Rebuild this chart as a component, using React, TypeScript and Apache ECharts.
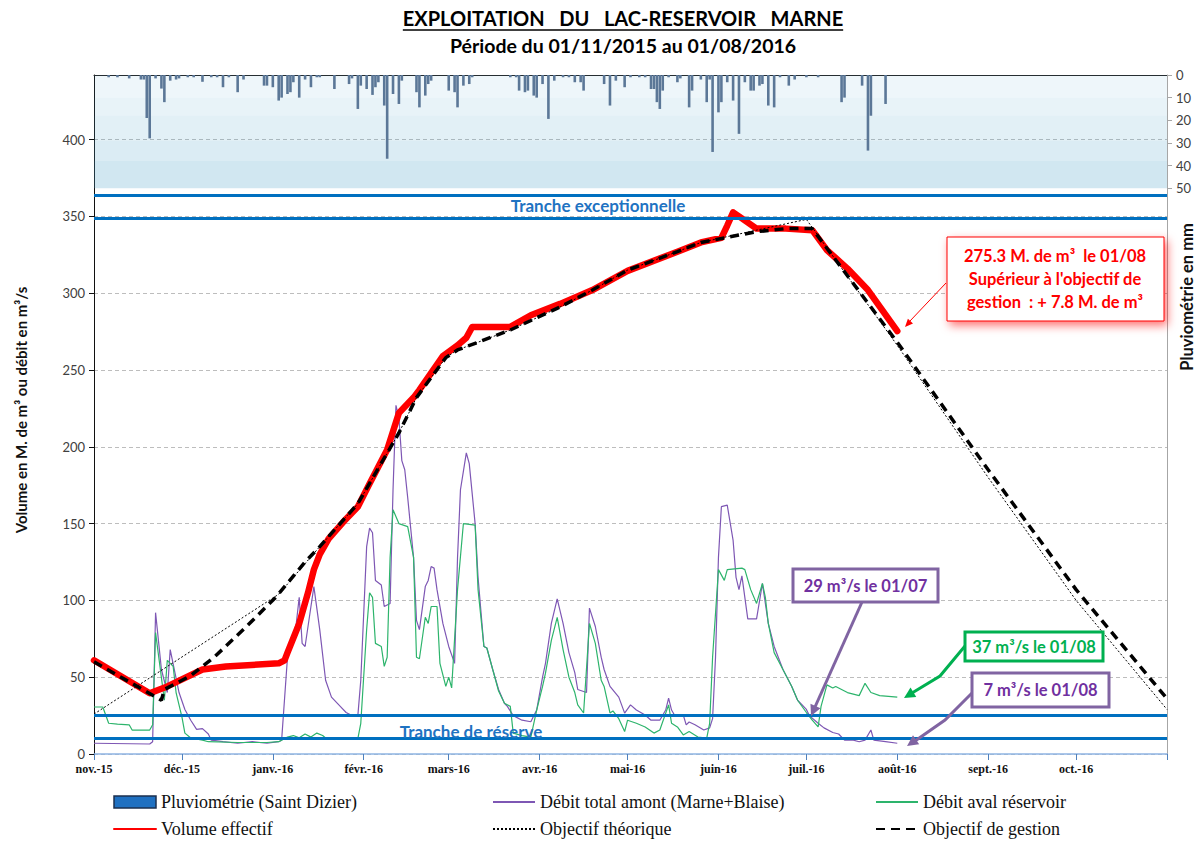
import React, { useEffect, useRef } from 'react';
import * as echarts from 'echarts';

// ---------- DATA ----------
const monthKeys = ['2015-11', '2015-12', '2016-01', '2016-02', '2016-03', '2016-04', '2016-05', '2016-06', '2016-07', '2016-08', '2016-09', '2016-10'];
const monthLabels = ['nov.-15', 'déc.-15', 'janv.-16', 'févr.-16', 'mars-16', 'avr.-16', 'mai-16', 'juin-16', 'juil.-16', 'août-16', 'sept.-16', 'oct.-16'];

const pluvioTicks = [0, 10, 20, 30, 40, 50];
const trancheLevels = [364, 349, 25, 10];

// Pluviométrie (mm/jour)
const pluviometrie: [string, number][] = [
  ['2015-11-06', 1], ['2015-11-09', 1], ['2015-11-13', 1.5], ['2015-11-17', 2], ['2015-11-18', 2],
  ['2015-11-19', 19], ['2015-11-20', 28], ['2015-11-22', 1.5], ['2015-11-24', 6], ['2015-11-25', 12],
  ['2015-11-27', 2.5], ['2015-11-29', 2], ['2015-11-30', 1.5], ['2015-12-03', 1], ['2015-12-05', 1],
  ['2015-12-08', 3], ['2015-12-11', 1], ['2015-12-13', 1], ['2015-12-15', 5.4], ['2015-12-17', 1],
  ['2015-12-20', 7.6], ['2015-12-22', 2], ['2015-12-29', 4.7], ['2015-12-30', 4.7], ['2016-01-01', 5.4],
  ['2016-01-03', 11.3], ['2016-01-04', 10], ['2016-01-06', 8.4], ['2016-01-07', 7.6], ['2016-01-08', 3.2],
  ['2016-01-10', 10], ['2016-01-12', 2], ['2016-01-14', 5.4], ['2016-01-16', 1], ['2016-01-17', 1],
  ['2016-01-22', 6.2], ['2016-01-27', 4], ['2016-01-28', 1.5], ['2016-01-30', 15], ['2016-01-31', 4.7],
  ['2016-02-02', 6.2], ['2016-02-04', 8.8], ['2016-02-05', 5.4], ['2016-02-06', 3.2], ['2016-02-08', 13.5],
  ['2016-02-09', 37], ['2016-02-11', 8.4], ['2016-02-13', 12.8], ['2016-02-14', 2.5], ['2016-02-19', 7.6],
  ['2016-02-20', 14.3], ['2016-02-22', 9.1], ['2016-02-23', 4], ['2016-02-24', 2.5], ['2016-03-01', 6.9],
  ['2016-03-03', 7.6], ['2016-03-04', 14.3], ['2016-03-06', 4.7], ['2016-03-08', 4], ['2016-03-09', 1],
  ['2016-03-22', 1], ['2016-03-24', 1], ['2016-03-25', 6.9], ['2016-03-27', 7.6], ['2016-03-28', 6.9],
  ['2016-03-30', 9.1], ['2016-03-31', 10], ['2016-04-02', 4], ['2016-04-04', 19.4], ['2016-04-06', 2.5],
  ['2016-04-09', 1], ['2016-04-11', 1], ['2016-04-13', 3.2], ['2016-04-15', 3.2], ['2016-04-16', 6.9],
  ['2016-04-23', 4], ['2016-04-25', 13.5], ['2016-04-27', 2.5], ['2016-04-30', 5.4], ['2016-05-02', 1],
  ['2016-05-05', 1], ['2016-05-07', 1], ['2016-05-09', 6.2], ['2016-05-10', 6.2], ['2016-05-11', 12],
  ['2016-05-12', 15], ['2016-05-13', 6.9], ['2016-05-15', 1], ['2016-05-18', 3.2], ['2016-05-19', 1.5],
  ['2016-05-22', 14.3], ['2016-05-23', 6.9], ['2016-05-26', 2], ['2016-05-28', 12], ['2016-05-29', 2],
  ['2016-05-30', 34], ['2016-06-01', 16.5], ['2016-06-02', 12], ['2016-06-04', 3.2], ['2016-06-06', 11.3],
  ['2016-06-08', 26], ['2016-06-10', 3.2], ['2016-06-12', 6.9], ['2016-06-13', 6.9], ['2016-06-15', 4.7],
  ['2016-06-16', 4], ['2016-06-18', 13.5], ['2016-06-20', 14.3], ['2016-06-22', 1], ['2016-06-25', 4.7],
  ['2016-06-27', 2], ['2016-07-01', 1], ['2016-07-05', 1], ['2016-07-13', 12], ['2016-07-14', 10],
  ['2016-07-20', 4.7], ['2016-07-22', 33.4], ['2016-07-23', 18], ['2016-07-28', 12.8],
];

// Débit total amont (Marne+Blaise), m3/s
const debitAmont: [string, number][] = [
  ['2015-11-01', 7], ['2015-11-20', 6.5], ['2015-11-21', 8], ['2015-11-22', 92], ['2015-11-24', 55],
  ['2015-11-26', 40], ['2015-11-27', 68], ['2015-11-30', 40], ['2015-12-02', 29], ['2015-12-04', 22],
  ['2015-12-06', 16], ['2015-12-08', 16.5], ['2015-12-10', 13], ['2015-12-11', 9], ['2015-12-15', 8],
  ['2015-12-20', 7], ['2015-12-25', 8], ['2015-12-30', 7], ['2016-01-03', 8], ['2016-01-04', 9],
  ['2016-01-06', 63], ['2016-01-09', 85], ['2016-01-10', 102], ['2016-01-11', 72], ['2016-01-12', 70],
  ['2016-01-14', 96], ['2016-01-15', 109], ['2016-01-17', 81], ['2016-01-19', 48], ['2016-01-21', 37],
  ['2016-01-24', 31], ['2016-01-26', 27], ['2016-01-28', 25], ['2016-01-30', 25], ['2016-01-31', 48],
  ['2016-02-02', 135], ['2016-02-03', 147], ['2016-02-04', 144], ['2016-02-05', 113], ['2016-02-07', 110],
  ['2016-02-08', 96], ['2016-02-10', 98], ['2016-02-11', 172], ['2016-02-12', 227], ['2016-02-13', 219],
  ['2016-02-14', 191], ['2016-02-15', 185], ['2016-02-16', 167], ['2016-02-18', 128], ['2016-02-19', 87],
  ['2016-02-20', 81], ['2016-02-22', 109], ['2016-02-23', 113], ['2016-02-24', 122], ['2016-02-25', 121],
  ['2016-02-26', 107], ['2016-02-28', 85], ['2016-03-01', 70], ['2016-03-03', 59], ['2016-03-04', 128],
  ['2016-03-05', 172], ['2016-03-07', 196], ['2016-03-08', 189], ['2016-03-10', 150], ['2016-03-11', 115],
  ['2016-03-13', 70], ['2016-03-14', 69], ['2016-03-16', 55], ['2016-03-18', 42], ['2016-03-20', 33],
  ['2016-03-21', 31], ['2016-03-23', 25], ['2016-03-26', 22], ['2016-03-29', 21], ['2016-03-31', 28.6],
  ['2016-04-02', 50], ['2016-04-03', 59], ['2016-04-05', 85], ['2016-04-07', 101], ['2016-04-09', 85],
  ['2016-04-11', 66], ['2016-04-13', 53], ['2016-04-14', 42], ['2016-04-17', 40], ['2016-04-18', 95],
  ['2016-04-20', 83], ['2016-04-22', 63], ['2016-04-23', 55], ['2016-04-25', 44], ['2016-04-28', 37],
  ['2016-04-30', 26.6], ['2016-05-02', 32], ['2016-05-04', 28.6], ['2016-05-07', 25.4], ['2016-05-09', 22],
  ['2016-05-12', 22], ['2016-05-14', 28.6], ['2016-05-15', 36.4], ['2016-05-16', 28.6], ['2016-05-17', 25.4],
  ['2016-05-20', 25.4], ['2016-05-21', 19], ['2016-05-22', 20.8], ['2016-05-24', 19], ['2016-05-27', 15.6],
  ['2016-05-29', 17], ['2016-05-30', 23], ['2016-05-31', 63], ['2016-06-01', 128], ['2016-06-02', 161],
  ['2016-06-04', 162], ['2016-06-06', 139], ['2016-06-07', 115], ['2016-06-08', 107], ['2016-06-09', 116],
  ['2016-06-11', 88], ['2016-06-14', 88], ['2016-06-16', 111], ['2016-06-18', 85], ['2016-06-20', 70],
  ['2016-06-23', 55], ['2016-06-26', 44], ['2016-06-28', 35], ['2016-07-01', 29], ['2016-07-02', 25],
  ['2016-07-05', 20], ['2016-07-07', 17], ['2016-07-10', 14], ['2016-07-12', 13], ['2016-07-14', 9],
  ['2016-07-17', 9], ['2016-07-19', 8], ['2016-07-21', 9], ['2016-07-23', 15.6], ['2016-07-24', 9],
  ['2016-07-28', 8], ['2016-08-01', 7],
];

// Débit aval réservoir, m3/s
const debitAval: [string, number][] = [
  ['2015-11-01', 30.6], ['2015-11-04', 30.6], ['2015-11-06', 20], ['2015-11-09', 19.5], ['2015-11-13', 19],
  ['2015-11-14', 15.6], ['2015-11-20', 15.6], ['2015-11-21', 19], ['2015-11-22', 79], ['2015-11-25', 35],
  ['2015-11-26', 61], ['2015-11-28', 57], ['2015-11-29', 40], ['2015-12-01', 24], ['2015-12-02', 13.6],
  ['2015-12-04', 10.4], ['2015-12-08', 9], ['2015-12-10', 8], ['2015-12-20', 7.5], ['2015-12-30', 7.5],
  ['2016-01-03', 8], ['2016-01-06', 11], ['2016-01-08', 12], ['2016-01-10', 10.5], ['2016-01-12', 13],
  ['2016-01-14', 11], ['2016-01-16', 13.6], ['2016-01-18', 12], ['2016-01-19', 10.4], ['2016-01-30', 10],
  ['2016-01-31', 20], ['2016-02-02', 81], ['2016-02-03', 105], ['2016-02-04', 102], ['2016-02-05', 72],
  ['2016-02-07', 70], ['2016-02-08', 57], ['2016-02-09', 63], ['2016-02-10', 128], ['2016-02-11', 159],
  ['2016-02-13', 150], ['2016-02-16', 148], ['2016-02-18', 128], ['2016-02-19', 63], ['2016-02-20', 62],
  ['2016-02-22', 89], ['2016-02-23', 85], ['2016-02-24', 96], ['2016-02-26', 96], ['2016-02-27', 59],
  ['2016-02-29', 44], ['2016-03-01', 50], ['2016-03-02', 43], ['2016-03-04', 107], ['2016-03-06', 150],
  ['2016-03-10', 149], ['2016-03-11', 107], ['2016-03-13', 70], ['2016-03-14', 69], ['2016-03-16', 55],
  ['2016-03-18', 41], ['2016-03-20', 33], ['2016-03-22', 31], ['2016-03-23', 13.6], ['2016-03-26', 12],
  ['2016-03-29', 11], ['2016-03-31', 28.6], ['2016-04-02', 44], ['2016-04-03', 52.6], ['2016-04-05', 74],
  ['2016-04-07', 89], ['2016-04-09', 68], ['2016-04-11', 50], ['2016-04-13', 40], ['2016-04-14', 32],
  ['2016-04-16', 26.7], ['2016-04-18', 85], ['2016-04-20', 72], ['2016-04-22', 48], ['2016-04-23', 44],
  ['2016-04-25', 26.7], ['2016-04-26', 28], ['2016-04-28', 23], ['2016-04-30', 14.6], ['2016-05-01', 22],
  ['2016-05-04', 20], ['2016-05-07', 17.6], ['2016-05-10', 13.6], ['2016-05-12', 15.6], ['2016-05-15', 32],
  ['2016-05-16', 20], ['2016-05-18', 17.6], ['2016-05-20', 12.4], ['2016-05-22', 14.6], ['2016-05-25', 11],
  ['2016-05-28', 10.4], ['2016-05-29', 20], ['2016-05-30', 63], ['2016-06-01', 120], ['2016-06-03', 113],
  ['2016-06-04', 120], ['2016-06-09', 121], ['2016-06-10', 120], ['2016-06-12', 107], ['2016-06-14', 98],
  ['2016-06-16', 111], ['2016-06-17', 102], ['2016-06-18', 85], ['2016-06-20', 66], ['2016-06-23', 55],
  ['2016-06-26', 44], ['2016-06-28', 35], ['2016-07-01', 27], ['2016-07-03', 22], ['2016-07-05', 17.6],
  ['2016-07-06', 31], ['2016-07-08', 45], ['2016-07-10', 43], ['2016-07-11', 44], ['2016-07-15', 40],
  ['2016-07-19', 38], ['2016-07-21', 46], ['2016-07-23', 40], ['2016-07-26', 38], ['2016-08-01', 37],
];

// Volume effectif, M. de m3
const volumeEffectif: [string, number][] = [
  ['2015-11-01', 61], ['2015-11-20', 39.5], ['2015-11-26', 44], ['2015-12-08', 55], ['2015-12-16', 57],
  ['2016-01-03', 59], ['2016-01-05', 61], ['2016-01-06', 66], ['2016-01-10', 85], ['2016-01-13', 105],
  ['2016-01-15', 120], ['2016-01-17', 130], ['2016-01-20', 140], ['2016-01-25', 151], ['2016-01-30', 161],
  ['2016-02-03', 176], ['2016-02-09', 198], ['2016-02-13', 222], ['2016-02-18', 232], ['2016-02-20', 237],
  ['2016-02-28', 259], ['2016-03-04', 266], ['2016-03-07', 271], ['2016-03-09', 278], ['2016-03-22', 278],
  ['2016-03-29', 285.6], ['2016-04-08', 293], ['2016-04-19', 302], ['2016-05-01', 314.5], ['2016-05-18', 327],
  ['2016-05-26', 333], ['2016-06-02', 336], ['2016-06-04', 344], ['2016-06-06', 352.6], ['2016-06-09', 348.7],
  ['2016-06-14', 342], ['2016-06-24', 342], ['2016-07-03', 341], ['2016-07-08', 328], ['2016-07-15', 316],
  ['2016-07-22', 302], ['2016-08-01', 275.3],
];

// Objectif théorique, M. de m3
const objectifTheorique: [string, number][] = [
  ['2015-11-01', 26], ['2016-01-03', 104], ['2016-01-17', 135], ['2016-01-30', 163], ['2016-02-13', 209],
  ['2016-02-19', 232], ['2016-02-29', 258], ['2016-03-04', 263], ['2016-03-22', 276], ['2016-04-08', 291],
  ['2016-04-19', 302], ['2016-05-01', 315], ['2016-05-18', 327], ['2016-05-26', 333], ['2016-06-14', 341],
  ['2016-07-01', 348], ['2016-08-01', 266], ['2016-09-01', 180], ['2016-10-01', 100], ['2016-11-01', 29],
];

// Objectif de gestion, M. de m3
const objectifGestion: [string, number][] = [
  ['2015-11-01', 60], ['2015-11-24', 35], ['2015-11-25', 42], ['2015-12-04', 51], ['2015-12-12', 63],
  ['2015-12-23', 83], ['2016-01-02', 102], ['2016-01-12', 125], ['2016-01-17', 135], ['2016-01-30', 163],
  ['2016-02-13', 209], ['2016-02-19', 232], ['2016-02-29', 258], ['2016-03-04', 263], ['2016-03-22', 276],
  ['2016-04-08', 291], ['2016-04-19', 302], ['2016-05-01', 315], ['2016-05-18', 327], ['2016-05-26', 333],
  ['2016-06-14', 340], ['2016-06-24', 342], ['2016-07-03', 342], ['2016-08-01', 268], ['2016-09-01', 185],
  ['2016-10-01', 107], ['2016-11-01', 36],
];

// ---------- TEXTS ----------
const TITLE = 'EXPLOITATION   DU   LAC-RESERVOIR   MARNE';
const SUBTITLE = 'Période du 01/11/2015 au 01/08/2016';
const LEFT_NAME = 'Volume en M. de m³ ou débit en m³/s';
const RIGHT_NAME = 'Pluviométrie en mm';
const S_PLUVIO = 'Pluviométrie (Saint Dizier)';
const S_AMONT = 'Débit total amont (Marne+Blaise)';
const S_AVAL = 'Débit aval réservoir';
const S_VOLUME = 'Volume effectif';
const S_THEO = 'Objectif théorique';
const S_GESTION = 'Objectif de gestion';
const volumeNote = ['275.3 M. de m³  le 01/08', "Supérieur à l'objectif de", 'gestion  : + 7.8 M. de m³'];
const amontJulyNote = '29 m³/s le 01/07';
const avalAugNote = '37 m³/s le 01/08';
const amontAugNote = '7 m³/s le 01/08';

function buildDays(): string[] {
  const out: string[] = [];
  const t0 = Date.UTC(2015, 10, 1);
  for (let i = 0; i <= 366; i++) out.push(new Date(t0 + i * 86400000).toISOString().slice(0, 10));
  return out;
}

function measure(text: string, font: string): number {
  const ctx = document.createElement('canvas').getContext('2d');
  if (!ctx) return text.length * 10;
  ctx.font = font;
  return ctx.measureText(text).width;
}

function arrowHead(tip: number[], from: number[], len: number, half: number, color: string) {
  const dx = tip[0] - from[0];
  const dy = tip[1] - from[1];
  const n = Math.sqrt(dx * dx + dy * dy);
  const ux = dx / n, uy = dy / n;
  const bx = tip[0] - ux * len, by = tip[1] - uy * len;
  return {
    type: 'polygon', z: 100,
    shape: { points: [tip, [bx - uy * half, by + ux * half], [bx + uy * half, by - ux * half]] },
    style: { fill: color },
  };
}

export default function App() {
  const ref = useRef<HTMLDivElement>(null);
  useEffect(() => {
    document.body.style.margin = '0';
    if (!ref.current) return;
    const chart = echarts.init(ref.current, undefined, { renderer: 'svg' });
    const days = buildDays();
    const titleFont = 'bold 20px Lato';
    const titleW = measure(TITLE, titleFont);
    const cx = 623;

    const labelFor = (v: string) => {
      const i = monthKeys.indexOf(v.slice(0, 7));
      return i >= 0 && v !== days[days.length - 1] ? monthLabels[i] : '';
    };
    const isMonthStart = (_i: number, v: string) => v.slice(8) === '01';

    const lineBase = { type: 'line', showSymbol: false, symbol: 'none', xAxisIndex: 0, yAxisIndex: 0 };
    const bandAlpha = [[0, 10, 0.097], [10, 18, 0.13], [18, 29, 0.165], [29, 38, 0.205], [38, 50, 0.26]];

    const legendBase = {
      orient: 'vertical', top: 793, padding: 0, itemWidth: 42, itemHeight: 12, itemGap: 9, selectedMode: false,
      textStyle: { fontFamily: 'Liberation Serif', fontSize: 18, color: '#111' },
    };
    const noSymbol = { opacity: 0 };

    const purple = '#7E57B4';
    const green = '#2DB46C';
    const noteFont = 'bold 16.5px Lato';

    const textEl = (text: string, x: number, y: number, font: string, fill: string, rotation = 0) => ({
      type: 'text', x, y, rotation, z: 100,
      style: { text, font, fill, textAlign: 'center', textVerticalAlign: 'middle' },
    });

    const option: any = {
      animation: false,
      textStyle: { fontFamily: 'Lato' },
      grid: { left: 94, right: 32, top: 75, bottom: 87, containLabel: false },
      xAxis: [
        {
          type: 'category', data: days, boundaryGap: false, position: 'bottom',
          axisLine: { show: true, lineStyle: { color: '#8EB4E3', width: 1.5 } },
          axisTick: { show: true, interval: isMonthStart, length: 6, lineStyle: { color: '#4F81BD' } },
          axisLabel: {
            interval: (i: number, v: string) => isMonthStart(i, v) && i < days.length - 1,
            formatter: labelFor, fontFamily: 'Liberation Serif', fontWeight: 'bold', fontSize: 12,
            color: '#111', margin: 9,
          },
          splitLine: { show: false },
        },
        {
          type: 'category', data: days, boundaryGap: false, position: 'top',
          axisLine: { show: true, lineStyle: { color: '#222', width: 1 } },
          axisTick: { show: false }, axisLabel: { show: false }, splitLine: { show: false },
        },
      ],
      yAxis: [
        {
          type: 'value', min: 0, max: 442, interval: 50, position: 'left',
          axisLine: { show: true, lineStyle: { color: '#111' } },
          axisTick: { show: true, length: 5, lineStyle: { color: '#111' } },
          axisLabel: { showMaxLabel: false, color: '#404040', fontFamily: 'Lato', fontSize: 13, margin: 9 },
          splitLine: { show: true, lineStyle: { color: '#BDBDBD', type: [4, 3] } },
        },
        {
          type: 'value', min: 0, max: 300, inverse: true, position: 'right',
          axisLine: { show: true, lineStyle: { color: '#A6A6A6' } },
          axisTick: { show: true, customValues: pluvioTicks, length: 5, lineStyle: { color: '#A6A6A6' } },
          axisLabel: { customValues: pluvioTicks, color: '#404040', fontFamily: 'Lato', fontSize: 13, margin: 9 },
          splitLine: { show: false },
        },
      ],
      legend: [
        { ...legendBase, left: 113, data: [
          { name: S_PLUVIO, icon: 'rect', itemStyle: { color: '#1F70C1', borderColor: '#1B2F4F', borderWidth: 1.5 } },
          { name: S_VOLUME, itemStyle: noSymbol },
        ] },
        { ...legendBase, left: 492, data: [{ name: S_AMONT, itemStyle: noSymbol }, { name: S_THEO, itemStyle: noSymbol }] },
        { ...legendBase, left: 875, data: [{ name: S_AVAL, itemStyle: noSymbol }, { name: S_GESTION, itemStyle: noSymbol }] },
      ],
      series: [
        {
          name: S_PLUVIO, type: 'bar', xAxisIndex: 0, yAxisIndex: 1, data: pluviometrie, barWidth: 2.6,
          itemStyle: { color: '#5B7797' },
          markArea: {
            silent: true,
            data: bandAlpha.map(([a, b, al]) => [
              { yAxis: a, itemStyle: { color: `rgba(79,163,200,${al})` } },
              { yAxis: b },
            ]),
          },
        },
        { ...lineBase, name: S_AMONT, data: debitAmont, lineStyle: { color: purple, width: 1.2 }, itemStyle: { color: purple } },
        {
          ...lineBase, name: S_AVAL, data: debitAval, lineStyle: { color: green, width: 1.2 }, itemStyle: { color: green },
          markLine: {
            silent: true, symbol: ['none', 'none'], label: { show: false },
            lineStyle: { color: '#0070C0', width: 3, type: 'solid' },
            data: trancheLevels.map((v) => ({ yAxis: v })),
          },
        },
        {
          ...lineBase, name: S_VOLUME, data: volumeEffectif,
          lineStyle: { color: '#FF0000', width: 6.5, cap: 'round', join: 'round' }, itemStyle: { color: '#FF0000' },
        },
        {
          ...lineBase, name: S_THEO, data: objectifTheorique,
          lineStyle: { color: '#000', width: 1, type: [2, 2] }, itemStyle: { color: '#000' },
        },
        {
          ...lineBase, name: S_GESTION, data: objectifGestion,
          lineStyle: { color: '#000', width: 3.5, type: [9, 6] }, itemStyle: { color: '#000' },
        },
      ],
      graphic: [
        textEl(TITLE, cx, 18, titleFont, '#000'),
        { type: 'line', z: 100, shape: { x1: cx - titleW / 2, y1: 30, x2: cx + titleW / 2, y2: 30 }, style: { stroke: '#000', lineWidth: 1.5 } },
        textEl(SUBTITLE, cx, 45, 'bold 19.5px Lato', '#000'),
        textEl(LEFT_NAME, 21, 410, 'bold 15px Lato', '#111', Math.PI / 2),
        textEl(RIGHT_NAME, 1187, 297, 'bold 16.5px Lato', '#111', Math.PI / 2),
        textEl('Tranche exceptionnelle', 598, 205, 'bold 17px Lato', '#1F73C2'),
        textEl('Tranche de réserve', 471, 731, 'bold 17px Lato', '#1F73C2'),
        // volume callout
        { type: 'polyline', z: 100, shape: { points: [[946, 283], [910, 321]] }, style: { stroke: '#FF0000', lineWidth: 1, fill: null } },
        arrowHead([905, 327], [946, 283], 8, 3.5, '#FF0000'),
        {
          type: 'rect', z: 100, shape: { x: 947, y: 237, width: 217, height: 84 },
          style: { fill: '#fff', stroke: '#FF0000', lineWidth: 1, shadowBlur: 10, shadowColor: 'rgba(255,0,0,0.55)', shadowOffsetX: 3, shadowOffsetY: 4 },
        },
        textEl(volumeNote[0], 1055, 256, noteFont, '#FF0000'),
        textEl(volumeNote[1], 1055, 279, noteFont, '#FF0000'),
        textEl(volumeNote[2], 1055, 302, noteFont, '#FF0000'),
        // 29 m3/s 01/07
        { type: 'polyline', z: 100, shape: { points: [[862, 602], [815, 707]] }, style: { stroke: '#8064A2', lineWidth: 3, fill: null } },
        arrowHead([811, 716], [862, 602], 11, 5.5, '#8064A2'),
        { type: 'rect', z: 100, shape: { x: 793, y: 569, width: 145, height: 33 }, style: { fill: '#fff', stroke: '#8064A2', lineWidth: 3 } },
        textEl(amontJulyNote, 865.5, 586, noteFont, '#7030A0'),
        // 37 m3/s 01/08
        { type: 'polyline', z: 100, shape: { points: [[965, 646], [940, 676], [912, 693]] }, style: { stroke: '#00B050', lineWidth: 3, fill: null } },
        arrowHead([904, 698], [940, 676], 11, 5.5, '#00B050'),
        { type: 'rect', z: 100, shape: { x: 965, y: 632, width: 138, height: 29 }, style: { fill: '#fff', stroke: '#00B050', lineWidth: 3 } },
        textEl(avalAugNote, 1034, 647, noteFont, '#00B050'),
        // 7 m3/s 01/08
        { type: 'polyline', z: 100, shape: { points: [[972, 693], [945, 720], [915, 741]] }, style: { stroke: '#8064A2', lineWidth: 3, fill: null } },
        arrowHead([907, 746], [945, 720], 11, 5.5, '#8064A2'),
        { type: 'rect', z: 100, shape: { x: 972, y: 673, width: 137, height: 34 }, style: { fill: '#fff', stroke: '#8064A2', lineWidth: 3 } },
        textEl(amontAugNote, 1040.5, 690, noteFont, '#7030A0'),
      ],
    };
    chart.setOption(option);
    return () => chart.dispose();
  }, []);
  return <div ref={ref} style={{ width: 1199, height: 841 }} />;
}
